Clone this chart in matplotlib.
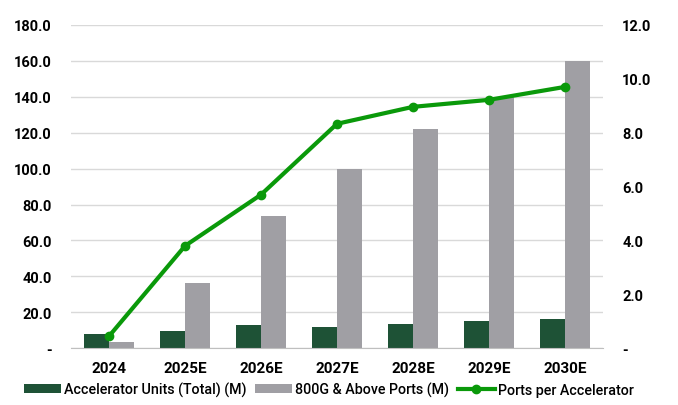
import numpy as np
import matplotlib.pyplot as plt
from matplotlib.ticker import FuncFormatter

# values
years = ['2024', '2025E', '2026E', '2027E', '2028E', '2029E', '2030E']
accel_units = [7.8, 9.6, 12.8, 11.6, 13.5, 15.0, 16.4]
ports_800g = [3.5, 36.5, 73.5, 100.0, 122.0, 140.0, 160.0]
ports_per_accel = [0.45, 3.8, 5.7, 8.33, 8.96, 9.22, 9.7]

DARK = '#1e5236'
GREY = '#a09fa4'
LINE = '#0a990a'

plt.rcParams['font.family'] = ['Roboto', 'DejaVu Sans']

fig = plt.figure(figsize=(6.78, 4.06), dpi=100)
ax = fig.add_axes([0.105, 0.14, 0.784, 0.796])
ax2 = ax.twinx()

x = np.arange(len(years))
w = 0.33
b1 = ax.bar(x - w / 2, accel_units, w, color=DARK, label='Accelerator Units (Total) (M)', zorder=2)
b2 = ax.bar(x + w / 2, ports_800g, w, color=GREY, label='800G & Above Ports (M)', zorder=2)
l1, = ax2.plot(x, ports_per_accel, color=LINE, lw=3, marker='o', ms=6,
               label='Ports per Accelerator', zorder=3)

ax.set_xlim(-0.5, len(years) - 0.5)
ax.set_ylim(0, 180)
ax2.set_ylim(0, 12)
ax.set_yticks(np.arange(0, 181, 20))
ax2.set_yticks(np.arange(0, 12.1, 2))

fmt = FuncFormatter(lambda v, p: '-' if v == 0 else f'{v:.1f}')
ax.yaxis.set_major_formatter(fmt)
ax2.yaxis.set_major_formatter(fmt)

ax.set_xticks(x)
ax.set_xticklabels(years)

for a in (ax, ax2):
    for s in a.spines.values():
        s.set_visible(False)
    a.tick_params(length=0, labelsize=10.5)
    for t in a.get_xticklabels() + a.get_yticklabels():
        t.set_fontweight('bold')
ax.tick_params(axis='x', labelsize=11, pad=9)

ax.tick_params(axis='y', pad=14)
ax2.tick_params(axis='y', pad=14)
ax.spines['bottom'].set_visible(True)
ax.spines['bottom'].set_color('#bfbfbf')
ax.grid(axis='y', color='#d9d9d9', lw=1, zorder=0)
ax.set_axisbelow(True)

ax.set_zorder(ax2.get_zorder() - 1)
ax.patch.set_visible(False)

fig.legend([b1, b2, l1], [b1.get_label(), b2.get_label(), l1.get_label()],
           loc='lower center', bbox_to_anchor=(0.485, -0.012), ncol=3, frameon=False,
           handlelength=2.6, handleheight=0.6, columnspacing=0.6,
           handletextpad=0.2, prop={'weight': 'medium', 'size': 10.3})

fig.savefig('out.png', dpi=100)
